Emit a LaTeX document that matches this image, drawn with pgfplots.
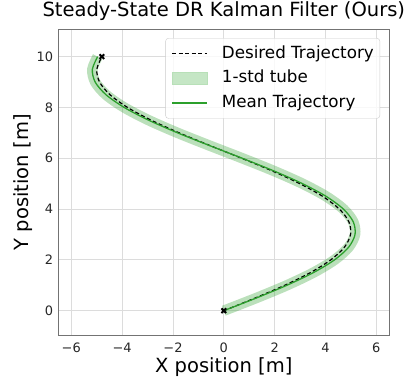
\documentclass[border=0pt]{standalone}
\usepackage{fontspec}
\setmainfont{DejaVu Sans}
\usepackage{pgfplots}
\pgfplotsset{compat=1.18}
\definecolor{mgreen}{HTML}{2CA02C}
\definecolor{tubec}{HTML}{B8E0B8}
\definecolor{gridc}{HTML}{DCDCDC}
\pgfplotsset{
  myline/.style={legend image code/.code={\draw[sharp corners, ##1] (0bp,0bp) -- (35bp,0bp);}},
  mybox/.style={legend image code/.code={\fill[sharp corners, tubec] (0bp,-5.8bp) rectangle (35bp,5.8bp);}},
}
\begin{document}
\begin{tikzpicture}
\useasboundingbox (-58.3bp,-49bp) rectangle (349.7bp,335bp);
\begin{axis}[
  at={(0,0)}, anchor=south west,
  scale only axis,
  width=331bp, height=305.5bp,
  xmin=-6.51, xmax=6.51, ymin=-0.957, ymax=11.07,
  xtick={-6,-4,-2,0,2,4,6},
  xticklabels={−6,−4,−2,0,2,4,6},
  ytick={0,2,4,6,8,10},
  yticklabels={0,2,4,6,8,10},
  major tick length=0pt,
  grid=major,
  grid style={gridc, line width=0.9bp},
  axis line style={black!55, line width=0.9bp},
  tick label style={font=\fontsize{13}{15}\selectfont, text=black!85},
  xticklabel style={anchor=base, yshift=-17.5bp},
  yticklabel style={anchor=east, inner xsep=0pt, xshift=-5bp},
  title={Steady-State DR Kalman Filter (Ours)},
  title style={font=\fontsize{19.6}{22}\selectfont, at={(axis description cs:0.5,1.023)}, anchor=base, inner sep=0pt},
  xlabel={X position [m]},
  ylabel={Y position [m]},
  label style={font=\fontsize{19.6}{22}\selectfont},
  xlabel style={at={(axis description cs:0.5,-0.1221)}, anchor=base, inner sep=0pt},
  ylabel style={at={(axis description cs:-0.0906,0.5)}, anchor=base, rotate=0, inner sep=0pt},
  legend style={at={(axis description cs:0.972,0.972)}, anchor=north east,
    font=\fontsize{16.8}{19}\selectfont, draw=black!20, rounded corners=3pt,
    fill=white, fill opacity=0.8, text opacity=1, draw opacity=1,
    inner xsep=6bp, inner ysep=7bp, row sep=7.6bp,
    nodes={inner sep=0pt, text height=12.8bp, text depth=4.2bp},
    /tikz/every odd column/.append style={column sep=14bp}},
  legend cell align=left,
]
% 1-std tube around mean trajectory
\addplot[forget plot, draw=mgreen, draw opacity=0.32, line width=10.5bp, smooth] coordinates {
(0,0) (1.280,0.5) (2.481,1.0) (3.527,1.5) (4.355,2.0) (4.911,2.5) (5.162,3.0) (5.092,3.5) (4.706,4.0) (4.027,4.5) (3.097,5.0) (1.975,5.5) (0.730,6.0) (-0.560,6.5) (-1.815,7.0) (-2.958,7.5) (-3.916,8.0) (-4.632,8.5) (-5.059,9.0) (-5.171,9.5) (-4.962,10.0)
};
% desired trajectory
\addplot[forget plot, black, line width=1.2bp, dash pattern=on 4bp off 2.5bp, smooth] coordinates {
(0,0) (1.237,0.5) (2.397,1.0) (3.408,1.5) (4.207,2.0) (4.745,2.5) (4.987,3.0) (4.920,3.5) (4.546,4.0) (3.891,4.5) (2.992,5.0) (1.909,5.5) (0.706,6.0) (-0.541,6.5) (-1.754,7.0) (-2.858,7.5) (-3.784,8.0) (-4.475,8.5) (-4.887,9.0) (-4.996,9.5) (-4.795,10.0)
};
% mean trajectory
\addplot[forget plot, mgreen, line width=1.3bp, smooth] coordinates {
(0,0) (1.280,0.5) (2.481,1.0) (3.527,1.5) (4.355,2.0) (4.911,2.5) (5.162,3.0) (5.092,3.5) (4.706,4.0) (4.027,4.5) (3.097,5.0) (1.975,5.5) (0.730,6.0) (-0.560,6.5) (-1.815,7.0) (-2.958,7.5) (-3.916,8.0) (-4.632,8.5) (-5.059,9.0) (-5.171,9.5) (-4.962,10.0)
};
% start and goal markers
\addplot[forget plot, only marks, mark=x, mark size=3.3bp, line width=2bp, black] coordinates {(0,0) (-4.795,10.0)};
\addlegendimage{myline, black, line width=1.2bp, dash pattern=on 4bp off 2.5bp}
\addlegendentry{Desired Trajectory}
\addlegendimage{mybox}
\addlegendentry{1-std tube}
\addlegendimage{myline, mgreen, solid, line width=1.3bp}
\addlegendentry{Mean Trajectory}
\end{axis}
\end{tikzpicture}
\end{document}
